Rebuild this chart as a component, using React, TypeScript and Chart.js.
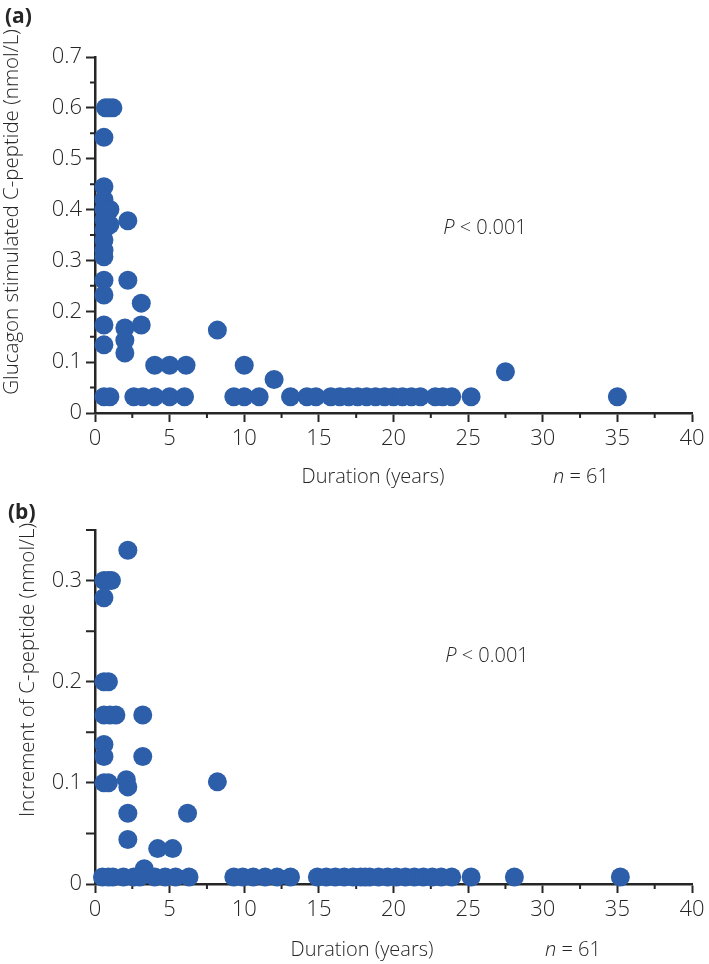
import React, { useEffect, useRef } from 'react';
import { Chart, registerables } from 'chart.js';

Chart.register(...registerables);

// ---------- data ----------
const durationA = [
  0.7, 0.95, 1.2, 0.6, 0.6, 0.6, 0.6, 1.0, 0.6, 1.0, 0.6, 0.6, 0.6, 0.6, 0.6, 0.6, 0.6, 0.6,
  2.2, 2.2, 3.1, 3.1, 2.0, 2.0, 2.0, 8.2, 4.0, 5.0, 6.1, 10.0, 12.0, 27.5,
  0.6, 1.0, 2.6, 3.2, 4.0, 5.0, 6.0, 9.3, 10.0, 11.0,
  13.1, 14.2, 14.8, 15.8, 16.4, 17.0, 17.6, 18.2, 18.8, 19.4, 20.0, 20.6, 21.2, 21.8, 22.8, 23.3, 23.9, 25.2,
  35.0,
];
const stimulatedCPeptide = [
  0.6, 0.6, 0.6, 0.542, 0.445, 0.42, 0.4, 0.4, 0.38, 0.37, 0.36, 0.34, 0.32, 0.307, 0.261, 0.232, 0.173, 0.134,
  0.378, 0.261, 0.216, 0.173, 0.167, 0.143, 0.118, 0.163, 0.094, 0.094, 0.094, 0.094, 0.066, 0.081,
  0.032, 0.032, 0.032, 0.032, 0.032, 0.032, 0.032, 0.032, 0.032, 0.032,
  0.032, 0.032, 0.032, 0.032, 0.032, 0.032, 0.032, 0.032, 0.032, 0.032, 0.032, 0.032, 0.032, 0.032, 0.032, 0.032, 0.032, 0.032,
  0.032,
];

const durationB = [
  2.2, 0.6, 0.9, 1.1, 0.6, 0.6, 0.9, 0.6, 1.0, 1.4, 3.2, 0.6, 0.6, 3.2, 0.6, 0.9, 2.1, 2.2, 8.2, 2.2, 6.2, 2.2, 4.2, 5.2, 3.3,
  0.5, 0.9, 1.2, 1.9, 2.6, 3.0, 4.0, 4.7, 5.4, 6.3,
  9.3, 9.9, 10.6, 11.4, 12.2, 13.1,
  14.9, 15.5, 16.1, 16.7, 17.3, 17.8, 18.1, 18.4, 19.0, 19.6, 20.2, 20.8, 21.4, 22.0, 22.6, 23.2, 23.9,
  25.2, 28.1, 35.2,
];
const incrementCPeptide = [
  0.33, 0.3, 0.3, 0.3, 0.283, 0.2, 0.2, 0.167, 0.167, 0.167, 0.167, 0.138, 0.126, 0.126, 0.1, 0.1, 0.103, 0.096, 0.101, 0.07, 0.07, 0.044, 0.035, 0.035, 0.015,
  0.007, 0.007, 0.007, 0.007, 0.007, 0.007, 0.007, 0.007, 0.007, 0.007,
  0.007, 0.007, 0.007, 0.007, 0.007, 0.007,
  0.007, 0.007, 0.007, 0.007, 0.007, 0.007, 0.007, 0.007, 0.007, 0.007, 0.007, 0.007, 0.007, 0.007, 0.007, 0.007, 0.007,
  0.007, 0.007, 0.007,
];

const xTicks = [0, 5, 10, 15, 20, 25, 30, 35, 40];
const xMinorTicks = [2.5, 7.5, 12.5, 17.5, 22.5, 27.5, 32.5, 37.5];
const yTicksA = [0, 0.1, 0.2, 0.3, 0.4, 0.5, 0.6, 0.7];
const yMinorTicksA = [0.05, 0.15, 0.25, 0.35, 0.45, 0.55, 0.65];
const yTicksB = [0, 0.1, 0.2, 0.3];
const yMinorTicksB = [0.05, 0.15, 0.25, 0.35];

// ---------- styling ----------
const FONT = "'Open Sans', 'Noto Sans', 'DejaVu Sans', sans-serif";
const INK = '#262626';
const DOT = '#2c5ea9';

type TextItem = {
  parts: { t: string; italic?: boolean; bold?: boolean }[];
  x: number;
  y: number;
  align: 'left' | 'center';
  size: number;
  rotate?: boolean;
};

type PanelCfg = {
  name: string;
  xs: number[];
  ys: number[];
  yMax: number;
  yTicks: number[];
  yMinor: number[];
  yMinorLen: number;
  padTop: number;
  xAxisH: number;
  texts: TextItem[];
};

function fontStr(size: number, italic?: boolean, bold?: boolean) {
  return `${italic ? 'italic ' : ''}${bold ? '700' : '300'} ${size}px ${FONT}`;
}

function makeDecor(cfg: PanelCfg) {
  return {
    id: 'decor_' + cfg.name,
    beforeDatasetsDraw(chart: any) {
      const ctx = chart.ctx as CanvasRenderingContext2D;
      const xs = chart.scales.x;
      const ys = chart.scales.y;
      const { left, bottom } = chart.chartArea;
      ctx.save();
      ctx.strokeStyle = INK;
      ctx.lineWidth = 2;
      ctx.beginPath();
      for (const v of xMinorTicks) {
        const px = xs.getPixelForValue(v);
        ctx.moveTo(px, bottom);
        ctx.lineTo(px, bottom + 5);
      }
      for (const v of cfg.yMinor) {
        const py = ys.getPixelForValue(v);
        ctx.moveTo(left, py);
        ctx.lineTo(left - cfg.yMinorLen, py);
      }
      ctx.stroke();
      ctx.restore();
    },
    afterDraw(chart: any) {
      const ctx = chart.ctx as CanvasRenderingContext2D;
      for (const item of cfg.texts) {
        ctx.save();
        ctx.fillStyle = INK;
        ctx.textBaseline = 'middle';
        ctx.textAlign = 'left';
        let total = 0;
        const widths = item.parts.map((p) => {
          ctx.font = fontStr(item.size, p.italic, p.bold);
          const w = ctx.measureText(p.t).width;
          total += w;
          return w;
        });
        ctx.translate(item.x, item.y);
        if (item.rotate) ctx.rotate(-Math.PI / 2);
        let cx = item.align === 'center' ? -total / 2 : 0;
        item.parts.forEach((p, i) => {
          ctx.font = fontStr(item.size, p.italic, p.bold);
          ctx.fillText(p.t, cx, 0);
          cx += widths[i];
        });
        ctx.restore();
      }
    },
  };
}

function makeChart(canvas: HTMLCanvasElement, cfg: PanelCfg) {
  const tickFont = { family: FONT, size: 22, weight: '300' as any };
  return new Chart(canvas, {
    type: 'scatter',
    data: {
      datasets: [
        {
          data: cfg.xs.map((x, i) => ({ x, y: cfg.ys[i] })),
          backgroundColor: DOT,
          borderColor: DOT,
          borderWidth: 0,
          pointRadius: 9.5,
          pointHoverRadius: 9.5,
          clip: false as any,
        },
      ],
    },
    options: {
      responsive: false,
      animation: false,
      events: [],
      layout: { padding: { left: 0, top: cfg.padTop, right: 17, bottom: 0 } },
      plugins: {
        legend: { display: false },
        tooltip: { enabled: false },
        title: { display: false },
      },
      scales: {
        x: {
          type: 'linear',
          position: 'bottom',
          min: 0,
          max: 40,
          afterBuildTicks: (s: any) => {
            s.ticks = xTicks.map((v) => ({ value: v }));
          },
          afterFit: (s: any) => {
            s.height = cfg.xAxisH;
          },
          ticks: {
            autoSkip: false,
            maxRotation: 0,
            padding: 4,
            color: INK,
            font: tickFont,
            callback: (v: any) => String(v),
          },
          grid: {
            drawOnChartArea: false,
            drawTicks: true,
            tickLength: 9,
            tickWidth: 2,
            tickColor: INK,
            color: INK,
          },
          border: { display: true, color: INK, width: 2.5 },
        },
        y: {
          type: 'linear',
          min: 0,
          max: cfg.yMax,
          afterBuildTicks: (s: any) => {
            s.ticks = cfg.yTicks.map((v) => ({ value: v }));
          },
          afterFit: (s: any) => {
            s.width = 95;
          },
          ticks: {
            autoSkip: false,
            padding: 4,
            color: INK,
            font: tickFont,
            callback: (v: any) => String(v),
          },
          grid: {
            drawOnChartArea: false,
            drawTicks: true,
            tickLength: 9,
            tickWidth: 2,
            tickColor: INK,
            color: INK,
          },
          border: { display: true, color: INK, width: 2.5 },
        },
      },
    } as any,
    plugins: [makeDecor(cfg)],
  });
}

// canvas A: page y 0..500, canvas B: page y 490..964
const panelA: PanelCfg = {
  name: 'a',
  xs: durationA,
  ys: stimulatedCPeptide,
  yMax: 0.7,
  yTicks: yTicksA,
  yMinor: yMinorTicksA,
  yMinorLen: 5,
  padTop: 57,
  xAxisH: 500 - 413,
  texts: [
    { parts: [{ t: '(a)', bold: true }], x: 5, y: 17, align: 'left', size: 21 },
    { parts: [{ t: 'Glucagon stimulated C-peptide (nmol/L)' }], x: 12, y: 212, align: 'center', size: 20.5, rotate: true },
    { parts: [{ t: 'P', italic: true }, { t: ' < 0.001' }], x: 485, y: 228, align: 'center', size: 20 },
    { parts: [{ t: 'Duration (years)' }], x: 373, y: 477, align: 'center', size: 20 },
    { parts: [{ t: 'n', italic: true }, { t: ' = 61' }], x: 553, y: 477, align: 'left', size: 20 },
  ],
};

const panelB: PanelCfg = {
  name: 'b',
  xs: durationB,
  ys: incrementCPeptide,
  yMax: 0.35,
  yTicks: yTicksB,
  yMinor: yMinorTicksB,
  yMinorLen: 9,
  padTop: 530 - 490,
  xAxisH: 964 - 884,
  texts: [
    { parts: [{ t: '(b)', bold: true }], x: 8, y: 513 - 490, align: 'left', size: 21 },
    { parts: [{ t: 'Increment of C-peptide (nmol/L)' }], x: 28, y: 670 - 490, align: 'center', size: 20.5, rotate: true },
    { parts: [{ t: 'P', italic: true }, { t: ' < 0.001' }], x: 487, y: 656 - 490, align: 'center', size: 20 },
    { parts: [{ t: 'Duration (years)' }], x: 362, y: 950 - 490, align: 'center', size: 20 },
    { parts: [{ t: 'n', italic: true }, { t: ' = 61' }], x: 545, y: 950 - 490, align: 'left', size: 20 },
  ],
};

export default function App() {
  const refA = useRef<HTMLCanvasElement>(null);
  const refB = useRef<HTMLCanvasElement>(null);

  useEffect(() => {
    if (!refA.current || !refB.current) return;
    const a = makeChart(refA.current, panelA);
    const b = makeChart(refB.current, panelB);
    return () => {
      a.destroy();
      b.destroy();
    };
  }, []);

  return (
    <div style={{ position: 'absolute', left: 0, top: 0, width: 709, height: 964, background: '#fff' }}>
      <canvas ref={refA} width={709} height={500} style={{ position: 'absolute', left: 0, top: 0, width: 709, height: 500 }} />
      <canvas ref={refB} width={709} height={474} style={{ position: 'absolute', left: 0, top: 490, width: 709, height: 474 }} />
    </div>
  );
}
